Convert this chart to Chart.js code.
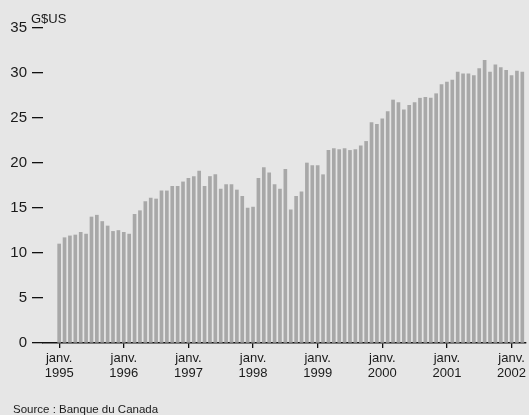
<!DOCTYPE html>
<html>
<head>
<meta charset="utf-8">
<script src="https://cdn.jsdelivr.net/npm/chart.js@4"></script>
<style>
  html, body { margin: 0; padding: 0; background: #e6e6e6; }
  #wrap { width: 529px; height: 415px; position: relative; }
</style>
</head>
<body>
<div id="wrap"><canvas id="reserves"></canvas></div>
<script>
// monthly values, janv. 1995 -> mars 2002 (G$US)
const values1995 = [11.0, 11.7, 11.9, 12.0, 12.3, 12.1, 14.0, 14.2, 13.5, 13.0, 12.4, 12.5];
const values1996 = [12.3, 12.1, 14.3, 14.7, 15.7, 16.1, 16.0, 16.9, 16.9, 17.4, 17.4, 17.9];
const values1997 = [18.3, 18.5, 19.1, 17.4, 18.5, 18.7, 17.1, 17.6, 17.6, 17.0, 16.3, 15.0];
const values1998 = [15.1, 18.3, 19.5, 18.9, 17.6, 17.1, 19.3, 14.8, 16.3, 16.8, 20.0, 19.7];
const values1999 = [19.7, 18.7, 21.4, 21.6, 21.5, 21.6, 21.4, 21.5, 21.9, 22.4, 24.5, 24.3];
const values2000 = [24.9, 25.7, 27.0, 26.7, 25.9, 26.4, 26.7, 27.2, 27.3, 27.2, 27.7, 28.7];
const values2001 = [29.0, 29.2, 30.1, 29.9, 29.9, 29.7, 30.5, 31.4, 30.1, 30.9, 30.6, 30.3];
const values2002 = [29.7, 30.2, 30.1];

const years = ["1995", "1996", "1997", "1998", "1999", "2000", "2001", "2002"];
const monthLabel = "janv.";
const unitLabel = "G$US";
const sourceLabel = "Source : Banque du Canada";

const values = [].concat(values1995, values1996, values1997, values1998,
                         values1999, values2000, values2001, values2002);
const points = values.map((v, i) => ({ x: i, y: v }));

const FONT = "'Liberation Sans', Arial, Helvetica, sans-serif";

const textPlugin = {
  id: "extraText",
  afterDraw(chart) {
    const ctx = chart.ctx;
    ctx.save();
    ctx.fillStyle = "#1a1a1a";
    ctx.textBaseline = "alphabetic";
    ctx.textAlign = "left";
    ctx.font = "13px " + FONT;
    ctx.fillText(unitLabel, 31, 23);
    ctx.font = "11.5px " + FONT;
    ctx.fillText(sourceLabel, 13, 413);
    ctx.restore();
  }
};

new Chart(document.getElementById("reserves"), {
  type: "bar",
  data: {
    datasets: [{
      data: points,
      backgroundColor: "#a8a8a8",
      borderWidth: 0,
      barThickness: 3,
    }],
  },
  options: {
    responsive: true,
    maintainAspectRatio: false,
    animation: false,
    layout: { padding: { top: 28, right: 0, left: 0, bottom: 0 } },
    plugins: {
      legend: { display: false },
      tooltip: { enabled: false },
    },
    scales: {
      x: {
        type: "linear",
        offset: false,
        min: -3.0,
        max: 86.7,
        afterFit: s => { s.height = 72; },
        afterBuildTicks: s => { s.ticks = years.map((y, i) => ({ value: i * 12 })); },
        ticks: {
          autoSkip: false,
          maxRotation: 0,
          padding: 3,
          color: "#1a1a1a",
          font: { family: FONT, size: 13, lineHeight: 1.15 },
          callback: (v) => [monthLabel, years[Math.round(v / 12)]],
        },
        grid: {
          offset: false,
          drawOnChartArea: false,
          drawTicks: true,
          tickLength: 5,
          color: "#111",
          lineWidth: 1.3,
        },
        border: { display: true, color: "#111", width: 1.5 },
      },
      y: {
        min: 0,
        max: 35,
        afterFit: s => { s.width = 43; },
        ticks: {
          stepSize: 5,
          padding: 5,
          color: "#1a1a1a",
          font: { family: FONT, size: 15 },
        },
        grid: {
          drawOnChartArea: false,
          drawTicks: true,
          tickLength: 11,
          color: "#111",
          lineWidth: 1.3,
        },
        border: { display: false },
      },
    },
  },
  plugins: [textPlugin],
});
</script>
</body>
</html>
